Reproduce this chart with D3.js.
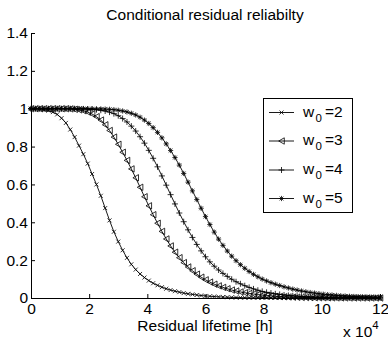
<!DOCTYPE html>
<html>
<head>
<meta charset="utf-8">
<script src="https://cdn.jsdelivr.net/npm/d3@7"></script>
<style>
  html, body { margin: 0; padding: 0; background: #fff; }
  svg { display: block; font-family: "Liberation Sans", Arial, Helvetica, sans-serif; }
</style>
</head>
<body>
<div id="chart"></div>
<script>
// residual lifetime grid [h]
const hours = [0,1500,3000,4500,6000,7500,9000,10500,12000,13500,15000,16500,18000,19500,21000,22500,24000,25500,27000,28500,30000,31500,33000,34500,36000,37500,39000,40500,42000,43500,45000,46500,48000,49500,51000,52500,54000,55500,57000,58500,60000,61500,63000,64500,66000,67500,69000,70500,72000,73500,75000,76500,78000,79500,81000,82500,84000,85500,87000,88500,90000,91500,93000,94500,96000,97500,99000,100500,102000,103500,105000,106500,108000,109500,111000,112500,114000,115500,117000,118500,120000];

const relW2 = [1,1,1,0.995,0.99,0.982,0.97,0.95,0.925,0.89,0.85,0.805,0.76,0.71,0.655,0.6,0.54,0.475,0.41,0.35,0.298,0.252,0.212,0.178,0.15,0.127,0.108,0.092,0.078,0.067,0.057,0.049,0.042,0.036,0.031,0.026,0.022,0.019,0.016,0.013,0.011,0.009,0.0075,0.0062,0.005,0.004,0.0033,0.0026,0.0021,0.0017,0.0013,0.001,0.0008,0.0006,0.0005,0.0004,0.0003,0.0002,0.0001,0.0001,0.0001,0.0001,0.0001,0.0001,0.0001,0.0001,0,0,0,0,0,0,0,0,0,0,0,0,0,0,0];

const relW3 = [1,1,1,1,1,1,1,1,1,0.999,0.997,0.994,0.989,0.982,0.972,0.958,0.94,0.915,0.885,0.85,0.812,0.77,0.727,0.682,0.635,0.585,0.535,0.487,0.44,0.395,0.352,0.312,0.275,0.242,0.213,0.187,0.164,0.144,0.126,0.11,0.096,0.084,0.073,0.064,0.056,0.049,0.042,0.037,0.032,0.028,0.024,0.021,0.018,0.015,0.013,0.011,0.009,0.008,0.0065,0.0055,0.0045,0.0038,0.003,0.0025,0.002,0.0017,0.0014,0.0011,0.0009,0.0007,0.0006,0.0005,0.0004,0.0003,0.0003,0.0002,0.0002,0.0001,0.0001,0.0001,0.0001];

const relW4 = [1,1,1,1,1,1,1,1,1,1,1,0.999,0.999,0.998,0.997,0.995,0.992,0.988,0.982,0.974,0.963,0.948,0.93,0.908,0.882,0.852,0.818,0.78,0.738,0.693,0.645,0.596,0.546,0.497,0.449,0.403,0.36,0.32,0.283,0.249,0.218,0.191,0.168,0.148,0.13,0.114,0.099,0.086,0.075,0.065,0.056,0.048,0.041,0.035,0.03,0.026,0.022,0.019,0.016,0.0135,0.0115,0.0097,0.0082,0.0069,0.0058,0.0049,0.0041,0.0034,0.0028,0.0023,0.0019,0.0016,0.0013,0.0011,0.0009,0.0007,0.0006,0.0005,0.0004,0.0003,0.0003];

const relW5 = [1,1,1,1,1,1,1,1,1,1,1,1,1,1,1,0.999,0.999,0.998,0.997,0.995,0.992,0.988,0.983,0.976,0.967,0.955,0.94,0.922,0.9,0.875,0.846,0.814,0.779,0.742,0.702,0.658,0.612,0.566,0.52,0.474,0.43,0.388,0.348,0.311,0.278,0.248,0.221,0.197,0.176,0.157,0.14,0.125,0.112,0.1,0.09,0.081,0.073,0.066,0.059,0.053,0.047,0.042,0.037,0.033,0.029,0.026,0.023,0.02,0.018,0.016,0.014,0.012,0.0105,0.009,0.008,0.007,0.006,0.005,0.0045,0.004,0.0035];

const seriesNames = ["2", "3", "4", "5"];
const seriesMarkers = ["x", "triangle", "plus", "star"];
const xTicks = [0, 20000, 40000, 60000, 80000, 100000, 120000];
const xTickLabels = ["0", "2", "4", "6", "8", "10", "12"];
const yTicks = [0, 0.2, 0.4, 0.6, 0.8, 1, 1.2, 1.4];
const yTickLabels = ["0", "0.2", "0.4", "0.6", "0.8", "1", "1.2", "1.4"];

const width = 388, height = 341;
const FS = 15.5;

const svg = d3.select("#chart").append("svg")
  .attr("width", width)
  .attr("height", height);

const x = d3.scaleLinear().domain([0, 120000]).range([31, 380]);
const y = d3.scaleLinear().domain([0, 1.4]).range([298, 33]);

// axes (left + bottom only, ticks inward)
const xAxis = svg.append("g")
  .attr("transform", `translate(0,${y(0)})`)
  .call(d3.axisBottom(x).tickValues(xTicks)
    .tickFormat((d, i) => xTickLabels[i])
    .tickSizeInner(-4).tickSizeOuter(0).tickPadding(5));

const yAxis = svg.append("g")
  .attr("transform", `translate(${x(0)},0)`)
  .call(d3.axisLeft(y).tickValues(yTicks)
    .tickFormat((d, i) => yTickLabels[i])
    .tickSizeInner(-4).tickSizeOuter(0).tickPadding(3));

[xAxis, yAxis].forEach(a => {
  a.selectAll("path, line").attr("stroke", "#000").attr("stroke-width", 1);
  a.selectAll("text").attr("fill", "#000")
    .style("font-size", FS + "px")
    .style("font-family", '"Liberation Sans", Arial, sans-serif');
});

// markers
function markerPath(type) {
  switch (type) {
    case "x": return "M-2,-2L2,2M-2,2L2,-2";
    case "triangle": return "M-2.8,0L2.8,-3.2L2.8,3.2Z";
    case "plus": return "M-3,0L3,0M0,-3L0,3";
    case "star": return "M-2.6,0L2.6,0M0,-2.6L0,2.6M-1.9,-1.9L1.9,1.9M-1.9,1.9L1.9,-1.9";
  }
}

const line = d3.line().x(d => x(d.h)).y(d => y(d.r));
const allSeries = [relW2, relW3, relW4, relW5].map(vals =>
  hours.map((h, i) => ({ h, r: vals[i] })));

const plotG = svg.append("g");
allSeries.forEach((data, k) => {
  const g = plotG.append("g");
  g.append("path")
    .datum(data)
    .attr("d", line)
    .attr("fill", "none")
    .attr("stroke", "#000")
    .attr("stroke-width", 0.9);
  g.selectAll("path.mk")
    .data(data)
    .join("path")
    .attr("class", "mk")
    .attr("transform", d => `translate(${x(d.h)},${y(d.r)})`)
    .attr("d", markerPath(seriesMarkers[k]))
    .attr("fill", "none")
    .attr("stroke", "#000")
    .attr("stroke-width", 0.8);
});

// title & labels
svg.append("text")
  .attr("x", 205).attr("y", 20)
  .attr("text-anchor", "middle")
  .style("font-size", FS + "px")
  .text("Conditional residual reliabilty");

svg.append("text")
  .attr("x", 205).attr("y", 331)
  .attr("text-anchor", "middle")
  .style("font-size", FS + "px")
  .text("Residual lifetime [h]");

const mult = svg.append("text")
  .attr("x", 343).attr("y", 337)
  .style("font-size", FS + "px");
mult.append("tspan").text("x 10");
mult.append("tspan").attr("dy", -8).style("font-size", "11.5px").text("4");

// legend
const legendG = svg.append("g");
legendG.append("rect")
  .attr("x", 263.5).attr("y", 98.5)
  .attr("width", 89).attr("height", 114)
  .attr("fill", "#fff")
  .attr("stroke", "#000")
  .attr("stroke-width", 1);

const rowY = [112.5, 141, 170, 198.5];
seriesNames.forEach((name, k) => {
  const ly = rowY[k];
  const row = legendG.append("g");
  row.append("line")
    .attr("x1", 269).attr("x2", 294)
    .attr("y1", ly).attr("y2", ly)
    .attr("stroke", "#000").attr("stroke-width", 0.9);
  row.append("path")
    .attr("transform", `translate(281.5,${ly})`)
    .attr("d", markerPath(seriesMarkers[k]))
    .attr("fill", "none").attr("stroke", "#000").attr("stroke-width", 0.8);
  const t = row.append("text")
    .attr("x", 303).attr("y", ly + 4)
    .style("font-size", FS + "px");
  t.append("tspan").text("w");
  t.append("tspan").attr("x", 315.5).attr("dy", 5).style("font-size", "11.5px").text("0");
  t.append("tspan").attr("x", 325).attr("dy", -5).text("=" + name);
});
</script>
</body>
</html>
